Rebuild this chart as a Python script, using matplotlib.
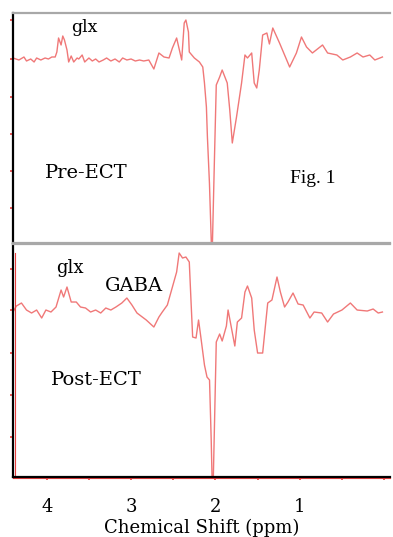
import numpy as np
import matplotlib
matplotlib.use('Agg')
import matplotlib.pyplot as plt

# spectra: chemical shift (ppm) and signal (arbitrary units)
pre_ppm = [4.40, 4.33, 4.27, 4.24, 4.19, 4.15, 4.12, 4.07, 4.02, 3.98, 3.94, 3.90, 3.88, 3.86,
           3.83, 3.81, 3.79, 3.76, 3.74, 3.71, 3.68, 3.64, 3.62, 3.58, 3.55, 3.50, 3.46, 3.42,
           3.38, 3.33, 3.29, 3.24, 3.19, 3.14, 3.10, 3.05, 3.00, 2.95, 2.90, 2.85, 2.79, 2.73,
           2.67, 2.61, 2.55, 2.51, 2.46, 2.40, 2.37, 2.35, 2.32, 2.31, 2.25, 2.19, 2.15, 2.13,
           2.107, 2.095, 2.083, 2.071, 2.048, 2.036, 2.012, 1.99, 1.95, 1.92, 1.86, 1.83, 1.80,
           1.75, 1.69, 1.65, 1.62, 1.57, 1.54, 1.51, 1.48, 1.44, 1.39, 1.36, 1.32, 1.24, 1.12,
           1.04, 0.98, 0.92, 0.85, 0.73, 0.67, 0.56, 0.49, 0.40, 0.32, 0.25, 0.17, 0.11, 0.02]
pre_sig = [2, 0, 3, -1, 1, -2, 2, 0, 2, 1, 3, 3, 8, 22,
           15, 24, 20, 10, -2, 4, -2, 2, 1, 5, -2, 2, -1, 1,
           -2, 0, 2, -1, 1, -2, 2, 0, 1, -1, 0, -1, 0, -9,
           7, 3, 2, 12, 22, 0, 37, 40, 28, 8, 2, -2, -7, -23,
           -47, -77, -100, -123, -185, -185, -100, -25, -17, -10, -23, -50, -83,
           -57, -23, 5, 2, 7, -23, -28, -10, 25, 27, 16, 32, 17, -7,
           7, 23, 13, 7, 15, 7, 5, 0, 3, 7, 3, 5, 0, 3]

post_ppm = [4.40, 4.36, 4.30, 4.24, 4.18, 4.12, 4.06, 4.01, 3.95, 3.89, 3.83, 3.80, 3.76, 3.71,
            3.65, 3.60, 3.54, 3.48, 3.42, 3.36, 3.30, 3.24, 3.18, 3.11, 3.05, 2.99, 2.93, 2.82,
            2.73, 2.67, 2.63, 2.57, 2.51, 2.46, 2.43, 2.39, 2.35, 2.31, 2.29, 2.27, 2.23, 2.20,
            2.17, 2.13, 2.10, 2.07, 2.05, 2.04, 2.025, 2.01, 1.99, 1.95, 1.92, 1.87, 1.85, 1.81,
            1.77, 1.74, 1.69, 1.65, 1.62, 1.57, 1.54, 1.50, 1.44, 1.38, 1.33, 1.27, 1.23, 1.18,
            1.14, 1.08, 1.02, 0.96, 0.88, 0.83, 0.74, 0.67, 0.60, 0.50, 0.40, 0.32, 0.20, 0.13,
            0.07, 0.02]
post_sig = [0, 6, 9, 2, -1, 2, -6, 2, 0, 5, 22, 15, 25, 10,
            10, 5, 4, 0, 2, -1, 4, 2, 5, 9, 14, 7, -1, -8,
            -15, -5, 0, 7, 25, 40, 59, 54, 55, 50, 12, -25, -26, -8,
            -27, -53, -65, -68, -128, -166, -166, -108, -30, -22, -29, -14, 2, -16,
            -34, -10, -6, 20, 26, 14, -18, -41, -41, 9, 12, 35, 20, 5,
            10, 19, 8, 7, -6, 0, -1, -10, -2, 2, 9, 2, 1, 3,
            -1, 0]

x_ticks = [4.0, 3.5, 3.0, 2.5, 2.0, 1.5, 1.0, 0.5, 0.0]
x_tick_labels = ['4', '', '3', '', '2', '', '1', '', '']
pre_yticks = [40, 1, -37, -74, -111, -148]
post_yticks = [43, 2, -41, -83, -125]

line_red = '#f07878'
tick_red = '#e84040'
grey = '#a8a8a8'
serif = 'DejaVu Serif'

fig = plt.figure(figsize=(3.93, 5.37), dpi=100)
ax1 = fig.add_axes([0.0331, 0.5475, 0.9593, 0.4283])
ax2 = fig.add_axes([0.0331, 0.1117, 0.9593, 0.4339])

ax1.plot(pre_ppm, pre_sig, color=line_red, lw=1.0)
ax2.plot(post_ppm, post_sig, color=line_red, lw=1.0)

for ax in (ax1, ax2):
    ax.set_xlim(4.40, -0.07)
    ax.spines['right'].set_visible(False)
    ax.spines['top'].set_color(grey)
    ax.spines['top'].set_linewidth(1.6)
    ax.spines['left'].set_color('black')
    ax.spines['left'].set_linewidth(1.6)
    ax.tick_params(axis='y', direction='out', length=2, width=1.2, color=tick_red, labelleft=False)

ax1.set_ylim(-183, 47)
ax1.set_yticks(pre_yticks)
ax1.set_xticks([])
ax1.spines['bottom'].set_color(grey)
ax1.spines['bottom'].set_linewidth(1.6)

ax2.set_ylim(-165, 68)
ax2.set_yticks(post_yticks)
ax2.spines['bottom'].set_color('black')
ax2.spines['bottom'].set_linewidth(1.6)
ax2.set_xticks(x_ticks)
ax2.set_xticklabels(x_tick_labels, fontfamily=serif, fontsize=13)
ax2.tick_params(axis='x', direction='out', length=2, width=1.2, color=tick_red, pad=13)
# thin red rules beside the black axes of the lower panel
ax2.plot([0.005, 0.005], [0, 0.96], transform=ax2.transAxes, color=tick_red, lw=0.8, clip_on=False)
ax2.plot([0, 1], [-0.006, -0.006], transform=ax2.transAxes, color=tick_red, lw=0.8, clip_on=False)

ax2.set_xlabel('Chemical Shift (ppm)', fontfamily=serif, fontsize=13, labelpad=2)

ax1.text(0.155, 0.935, 'glx', transform=ax1.transAxes, fontfamily=serif, fontsize=12.5,
         ha='left', va='center')
ax1.text(0.085, 0.305, 'Pre-ECT', transform=ax1.transAxes, fontfamily=serif, fontsize=14,
         ha='left', va='center')
ax1.text(0.735, 0.28, 'Fig. 1', transform=ax1.transAxes, fontfamily='Liberation Serif',
         fontsize=14, ha='left', va='center')

ax2.text(0.115, 0.895, 'glx', transform=ax2.transAxes, fontfamily=serif, fontsize=13,
         ha='left', va='center')
ax2.text(0.245, 0.82, 'GABA', transform=ax2.transAxes, fontfamily=serif, fontsize=14,
         ha='left', va='center')
ax2.text(0.10, 0.415, 'Post-ECT', transform=ax2.transAxes, fontfamily=serif, fontsize=14,
         ha='left', va='center')

fig.savefig('out.png', dpi=100)
